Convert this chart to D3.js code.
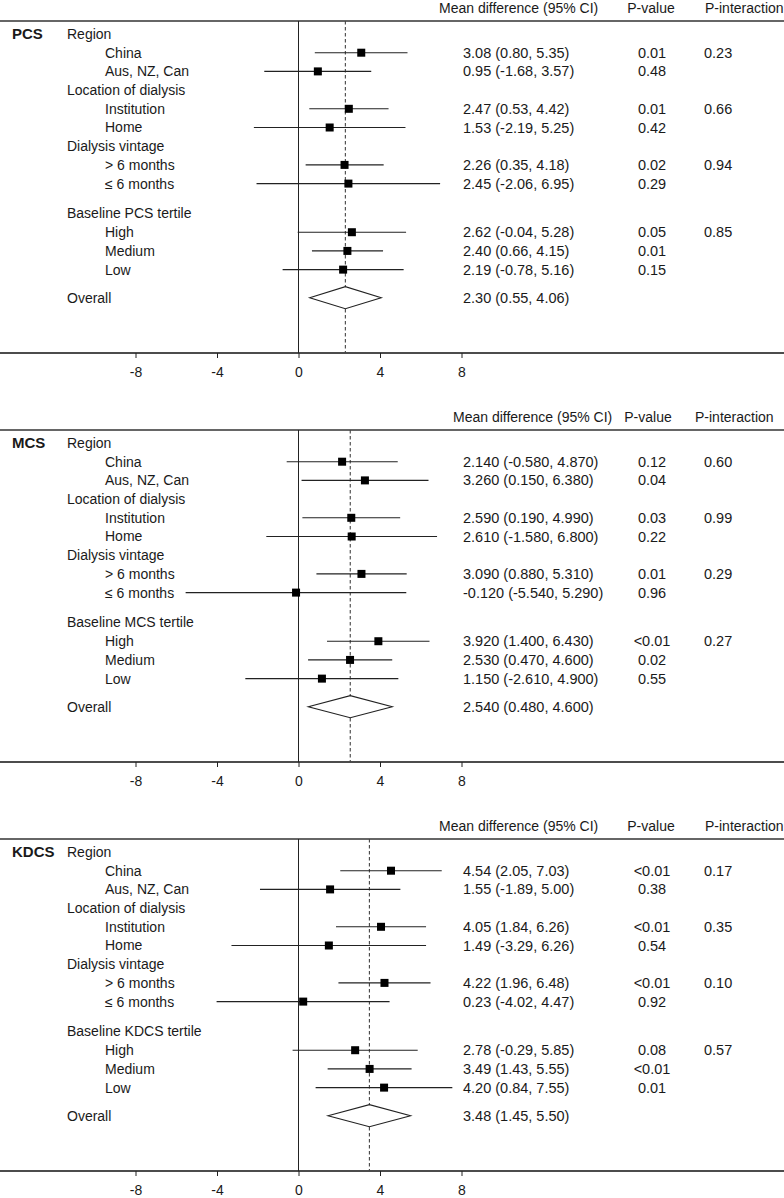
<!DOCTYPE html>
<html>
<head>
<meta charset="utf-8">
<script src="https://cdn.jsdelivr.net/npm/d3@7"></script>
<style>
  html, body { margin: 0; padding: 0; background: #fff; }
  svg { display: block; }
  text { font-family: "Liberation Sans", Arial, Helvetica, sans-serif; fill: #1a1a1a; }
</style>
</head>
<body>
<svg id="chart" width="784" height="1198"></svg>
<script>
// ---------- DATA ----------
const panels = ["PCS", "MCS", "KDCS"];
const decimals = [2, 3, 2];
const groups = ["Region", "Location of dialysis", "Dialysis vintage", "Baseline {P} tertile"];
const subgroups = [["China", "Aus, NZ, Can"], ["Institution", "Home"], ["> 6 months", "\u2264 6 months"], ["High", "Medium", "Low"]];
const headers = ["Mean difference (95% CI)", "P-value", "P-interaction"];
const tickValues = [-8, -4, 0, 4, 8];

const pcsMean = [3.08, 0.95, 2.47, 1.53, 2.26, 2.45, 2.62, 2.40, 2.19];
const pcsLow  = [0.80, -1.68, 0.53, -2.19, 0.35, -2.06, -0.04, 0.66, -0.78];
const pcsHigh = [5.35, 3.57, 4.42, 5.25, 4.18, 6.95, 5.28, 4.15, 5.16];
const pcsP    = ["0.01", "0.48", "0.01", "0.42", "0.02", "0.29", "0.05", "0.01", "0.15"];
const pcsPint = ["0.23", "0.66", "0.94", "0.85"];
const pcsOverall = [2.30, 0.55, 4.06];

const mcsMean = [2.140, 3.260, 2.590, 2.610, 3.090, -0.120, 3.920, 2.530, 1.150];
const mcsLow  = [-0.580, 0.150, 0.190, -1.580, 0.880, -5.540, 1.400, 0.470, -2.610];
const mcsHigh = [4.870, 6.380, 4.990, 6.800, 5.310, 5.290, 6.430, 4.600, 4.900];
const mcsP    = ["0.12", "0.04", "0.03", "0.22", "0.01", "0.96", "<0.01", "0.02", "0.55"];
const mcsPint = ["0.60", "0.99", "0.29", "0.27"];
const mcsOverall = [2.540, 0.480, 4.600];

const kdcsMean = [4.54, 1.55, 4.05, 1.49, 4.22, 0.23, 2.78, 3.49, 4.20];
const kdcsLow  = [2.05, -1.89, 1.84, -3.29, 1.96, -4.02, -0.29, 1.43, 0.84];
const kdcsHigh = [7.03, 5.00, 6.26, 6.26, 6.48, 4.47, 5.85, 5.55, 7.55];
const kdcsP    = ["<0.01", "0.38", "<0.01", "0.54", "<0.01", "0.92", "0.08", "<0.01", "0.01"];
const kdcsPint = ["0.17", "0.35", "0.10", "0.57"];
const kdcsOverall = [3.48, 1.45, 5.50];

const panelData = [
  {mean: pcsMean, low: pcsLow, high: pcsHigh, p: pcsP, pint: pcsPint, overall: pcsOverall},
  {mean: mcsMean, low: mcsLow, high: mcsHigh, p: mcsP, pint: mcsPint, overall: mcsOverall},
  {mean: kdcsMean, low: kdcsLow, high: kdcsHigh, p: kdcsP, pint: kdcsPint, overall: kdcsOverall}
];

// ---------- LAYOUT ----------
const W = 784;
const panelStep = 409;
const topLineY = 21, axisY = 353, firstRowY = 34, rowH = 18.7;
const x = d3.scaleLinear().domain([0, 4]).range([298.5, 380]);
const headerX = [[439, 651, 705], [453, 648, 695], [439, 651, 705]];
const colVal = 463, colP = 652, colPint = 704;
const valSize = "14.5px";

const svg = d3.select("#chart");

function fmt(v, d) { return v.toFixed(d); }

panels.forEach((name, pi) => {
  const D = panelData[pi];
  const dec = decimals[pi];
  const g = svg.append("g").attr("transform", `translate(0,${pi * panelStep})`);

  // build rows
  const rows = [];
  let r = 0, idx = 0;
  groups.forEach((gl, gi) => {
    if (gi === 3) r += 0.6;
    rows.push({type: "group", label: gl.replace("{P}", name), r: r, gi: gi});
    r += 1;
    subgroups[gi].forEach((s, si) => {
      rows.push({type: "item", label: s, r: r, i: idx, pint: si === 0 ? D.pint[gi] : null});
      r += 1; idx += 1;
    });
  });
  const y = d3.scaleLinear().domain([0, 1]).range([firstRowY, firstRowY + rowH]);

  // headers
  g.append("text").attr("x", headerX[pi][0]).attr("y", 8).attr("dy", "0.35em")
    .style("font-size", "14px").text(headers[0]);
  g.append("text").attr("x", headerX[pi][1]).attr("y", 8).attr("dy", "0.35em")
    .attr("text-anchor", "middle").style("font-size", "14px").text(headers[1]);
  g.append("text").attr("x", headerX[pi][2]).attr("y", 8).attr("dy", "0.35em")
    .style("font-size", "14px").text(headers[2]);

  // top line and axis line
  g.append("line").attr("x1", 0).attr("x2", W).attr("y1", topLineY).attr("y2", topLineY)
    .attr("stroke", "#333").attr("stroke-width", 1.5);
  g.append("line").attr("x1", 0).attr("x2", W).attr("y1", axisY).attr("y2", axisY)
    .attr("stroke", "#111").attr("stroke-width", 1.5);

  // zero line
  g.append("line").attr("x1", x(0)).attr("x2", x(0)).attr("y1", topLineY).attr("y2", axisY)
    .attr("stroke", "#222").attr("stroke-width", 1);

  // overall dashed line
  g.append("line").attr("x1", x(D.overall[0])).attr("x2", x(D.overall[0]))
    .attr("y1", topLineY).attr("y2", axisY)
    .attr("stroke", "#444").attr("stroke-width", 1.1).attr("stroke-dasharray", "3.5,2.5");

  // panel label
  g.append("text").attr("x", 12).attr("y", y(0)).attr("dy", "0.35em")
    .style("font-size", "15px").style("font-weight", "bold").text(name);

  rows.forEach(row => {
    const yy = y(row.r);
    if (row.type === "group") {
      g.append("text").attr("x", 67).attr("y", yy).attr("dy", "0.35em")
        .style("font-size", "14px").text(row.label);
    } else {
      const i = row.i;
      g.append("text").attr("x", 105).attr("y", yy).attr("dy", "0.35em")
        .style("font-size", "14px").text(row.label);
      g.append("line").attr("x1", x(D.low[i])).attr("x2", x(D.high[i]))
        .attr("y1", yy).attr("y2", yy).attr("stroke", "#222").attr("stroke-width", 1.1);
      g.append("rect").attr("x", x(D.mean[i]) - 4).attr("y", yy - 4)
        .attr("width", 8).attr("height", 8).attr("fill", "#000");
      g.append("text").attr("x", colVal).attr("y", yy).attr("dy", "0.35em")
        .style("font-size", valSize)
        .text(`${fmt(D.mean[i], dec)} (${fmt(D.low[i], dec)}, ${fmt(D.high[i], dec)})`);
      g.append("text").attr("x", colP).attr("y", yy).attr("dy", "0.35em")
        .attr("text-anchor", "middle").style("font-size", valSize).text(D.p[i]);
      if (row.pint) {
        g.append("text").attr("x", colPint).attr("y", yy).attr("dy", "0.35em")
          .style("font-size", valSize).text(row.pint);
      }
    }
  });

  // overall
  const lastR = rows[rows.length - 1].r;
  const oy = y(lastR + 1.5);
  const [om, ol, oh] = D.overall;
  g.append("text").attr("x", 67).attr("y", oy).attr("dy", "0.35em")
    .style("font-size", "14px").text("Overall");
  g.append("path")
    .attr("d", `M${x(ol)},${oy} L${x(om)},${oy - 11} L${x(oh)},${oy} L${x(om)},${oy + 11} Z`)
    .attr("fill", "#fff").attr("stroke", "#222").attr("stroke-width", 1.1);
  g.append("text").attr("x", colVal).attr("y", oy).attr("dy", "0.35em")
    .style("font-size", valSize).text(`${fmt(om, dec)} (${fmt(ol, dec)}, ${fmt(oh, dec)})`);

  // axis
  const axis = d3.axisBottom(x).tickValues(tickValues).tickSize(5).tickPadding(9)
    .tickFormat(d => String(d));
  const ag = g.append("g").attr("transform", `translate(0,${axisY})`).call(axis);
  ag.select(".domain").remove();
  ag.selectAll(".tick line").attr("stroke", "#222").attr("stroke-width", 1);
  ag.selectAll(".tick text").style("font-size", "14px")
    .style("font-family", "'Liberation Sans', Arial, sans-serif").attr("fill", "#1a1a1a");
});
</script>
</body>
</html>
